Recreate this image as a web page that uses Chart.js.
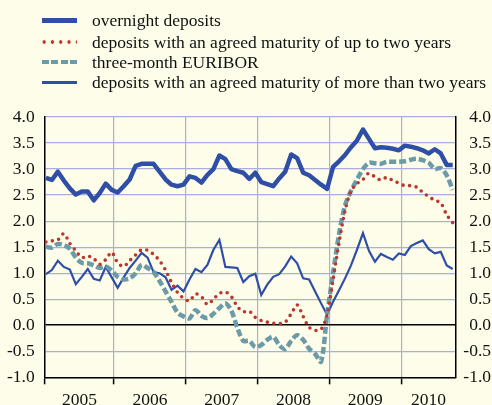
<!DOCTYPE html>
<html>
<head>
<meta charset="utf-8">
<script src="https://cdn.jsdelivr.net/npm/chart.js@4"></script>
<style>
  html, body { margin: 0; padding: 0; background: #fefde9; }
  #wrap { position: relative; width: 492px; height: 405px; overflow: hidden; background: #fefde9; }
  #chart { position: absolute; left: 0; top: 0; }
  .legend { position: absolute; left: 42px; top: 0; font-family: "Liberation Serif", "Times New Roman", serif; font-size: 17.5px; color: #111; }
  .row { position: absolute; left: 0; height: 20px; line-height: 20px; white-space: nowrap; }
  .row span.mark { position: absolute; left: 0; width: 35px; }
  .row span.txt { position: absolute; left: 50px; top: 0; }
</style>
</head>
<body>
<div id="wrap">
  <canvas id="chart" width="492" height="405"></canvas>
  <div class="legend" id="legend"></div>
</div>
<script>
// monthly data, Jan 2005 - Sep 2010
const years = ['2005', '2006', '2007', '2008', '2009', '2010'];

const overnight = [
  2.83, 2.79, 2.95, 2.78, 2.63, 2.51, 2.57, 2.57, 2.40, 2.54, 2.72, 2.60,
  2.55, 2.67, 2.80, 3.06, 3.10, 3.10, 3.10, 2.95, 2.80, 2.70, 2.67, 2.70,
  2.86, 2.83, 2.74, 2.89, 3.00, 3.26, 3.19, 3.00, 2.96, 2.93, 2.81, 2.93,
  2.75, 2.71, 2.67, 2.82, 2.95, 3.28, 3.21, 2.93, 2.88, 2.79, 2.70, 2.62,
  3.04, 3.15, 3.27, 3.42, 3.55, 3.76, 3.58, 3.40, 3.42, 3.41, 3.39, 3.36,
  3.45, 3.43, 3.40, 3.36, 3.30, 3.38, 3.30, 3.08, 3.08
];
const upToTwo = [
  1.60, 1.62, 1.64, 1.76, 1.57, 1.43, 1.30, 1.33, 1.28, 1.17, 1.26, 1.40,
  1.20, 1.13, 1.24, 1.35, 1.45, 1.44, 1.36, 1.24, 1.06, 0.82, 0.63, 0.52,
  0.47, 0.60, 0.55, 0.40, 0.50, 0.61, 0.64, 0.55, 0.36, 0.26, 0.27, 0.15,
  0.09, 0.06, 0.04, 0.03, 0.06, 0.22, 0.39, 0.17, -0.04, -0.10, -0.08, 0.20,
  0.88, 1.58, 2.20, 2.58, 2.72, 2.80, 2.92, 2.85, 2.79, 2.84, 2.78, 2.73,
  2.68, 2.68, 2.65, 2.55, 2.47, 2.40, 2.35, 2.12, 1.97
];
const euribor = [
  1.51, 1.49, 1.56, 1.54, 1.47, 1.30, 1.20, 1.19, 1.15, 1.10, 1.13, 1.05,
  0.93, 0.88, 0.90, 1.00, 1.16, 1.10, 1.02, 0.85, 0.65, 0.45, 0.24, 0.17,
  0.13, 0.29, 0.18, 0.14, 0.22, 0.33, 0.42, 0.28, -0.05, -0.30, -0.30, -0.42,
  -0.38, -0.28, -0.22, -0.38, -0.46, -0.30, -0.19, -0.28, -0.45, -0.55, -0.70, 0.20,
  1.00, 1.75, 2.30, 2.58, 2.80, 3.00, 3.12, 3.11, 3.10, 3.14, 3.14, 3.14,
  3.15, 3.18, 3.20, 3.17, 3.12, 3.00, 3.02, 2.88, 2.60
];
const overTwo = [
  0.98, 1.06, 1.24, 1.12, 1.07, 0.79, 0.93, 1.08, 0.89, 0.86, 1.12, 0.92,
  0.72, 0.92, 1.10, 1.24, 1.39, 1.30, 1.02, 1.00, 0.92, 0.68, 0.76, 0.65,
  0.88, 1.08, 1.02, 1.16, 1.45, 1.64, 1.12, 1.11, 1.10, 0.83, 0.94, 0.99,
  0.58, 0.78, 0.93, 0.98, 1.13, 1.32, 1.19, 0.90, 0.88, 0.65, 0.42, 0.20,
  0.45, 0.67, 0.90, 1.15, 1.45, 1.77, 1.43, 1.22, 1.37, 1.31, 1.26, 1.38,
  1.35, 1.52, 1.58, 1.63, 1.46, 1.38, 1.41, 1.15, 1.08
];
const yTicks = [-1.0, -0.5, 0.0, 0.5, 1.0, 1.5, 2.0, 2.5, 3.0, 3.5, 4.0];

const BLUE = '#2f4fa7';
const RED = '#b9372c';
const TEAL = '#6b9aa9';
const GRID = '#a9aee0';
const FONT = { family: '"Liberation Serif", "Times New Roman", serif', size: 17.5 };

const xMin = 0.4, xMax = 69.1;
const toXY = arr => arr.map((v, i) => ({ x: i + 0.6, y: v }));

// year boundaries and label positions (middle of the visible part of each year)
const bounds = [12, 24, 36, 48, 60];
const mids = years.map((y, k) => {
  const a = Math.max(k * 12, xMin), b = Math.min(k * 12 + 12, xMax);
  return (a + b) / 2;
});
const xTickVals = [xMin, ...bounds, ...mids].sort((a, b) => a - b);

const isBound = v => v === xMin || bounds.includes(v);

new Chart(document.getElementById('chart'), {
  type: 'line',
  data: {
    datasets: [
      { label: 'overnight deposits', data: toXY(overnight), borderColor: BLUE, borderWidth: 4.5, pointRadius: 0, tension: 0, borderJoinStyle: 'round' },
      { label: 'deposits with an agreed maturity of up to two years', data: toXY(upToTwo), borderColor: RED, borderWidth: 3.6, borderDash: [0, 6.6], borderCapStyle: 'round', pointRadius: 0, tension: 0.3 },
      { label: 'three-month EURIBOR', data: toXY(euribor), borderColor: TEAL, borderWidth: 4.5, borderDash: [7, 3], pointRadius: 0, tension: 0.3 },
      { label: 'deposits with an agreed maturity of more than two years', data: toXY(overTwo), borderColor: BLUE, borderWidth: 2.2, pointRadius: 0, tension: 0 }
    ]
  },
  options: {
    responsive: false,
    animation: false,
    devicePixelRatio: 1,
    layout: { padding: { top: 117, left: 0, right: 1, bottom: 0 } },
    plugins: { legend: { display: false }, tooltip: { enabled: false } },
    scales: {
      x: {
        type: 'linear', min: xMin, max: xMax,
        afterBuildTicks: s => { s.ticks = xTickVals.map(v => ({ value: v })); },
        afterFit: s => { s.height = 27.7; },
        ticks: {
          autoSkip: false, maxRotation: 0, minRotation: 0, padding: 6, color: '#111', font: FONT,
          callback: v => { const k = mids.indexOf(v); return k >= 0 ? years[k] : ''; }
        },
        grid: {
          color: c => (c.tick && isBound(c.tick.value) && c.tick.value !== xMin) ? GRID : 'transparent',
          tickColor: c => (c.tick && isBound(c.tick.value)) ? '#000' : 'transparent',
          tickLength: 7, lineWidth: 1.2, tickWidth: 1.5
        },
        border: { color: '#000', width: 1.5 }
      },
      y: {
        min: -1, max: 4,
        afterBuildTicks: s => { s.ticks = yTicks.map(v => ({ value: v })); },
        afterFit: s => { s.width = 44.7; },
        ticks: { padding: 10, color: '#111', font: FONT, callback: v => v.toFixed(1) },
        grid: {
          drawTicks: false,
          color: c => (c.tick && c.tick.value === 0) ? '#000' : GRID,
          lineWidth: c => (c.tick && c.tick.value === 0) ? 1.5 : 1.2
        },
        border: { color: '#000', width: 1.5 }
      },
      y2: {
        position: 'right', min: -1, max: 4,
        afterBuildTicks: s => { s.ticks = yTicks.map(v => ({ value: v })); },
        afterFit: s => { s.width = 35.3; },
        ticks: { padding: 12, crossAlign: 'far', color: '#111', font: FONT, callback: v => v.toFixed(1) },
        grid: { drawOnChartArea: false, drawTicks: false },
        border: { color: '#000', width: 1.5 }
      }
    }
  }
});

// legend
const legendRows = [
  { text: 'overnight deposits', y: 20,
    css: 'height:5px; background:' + BLUE },
  { text: 'deposits with an agreed maturity of up to two years', y: 42,
    css: 'height:4px; background-image: radial-gradient(circle, ' + RED + ' 1.5px, transparent 2px); background-size: 8.3px 4px; background-position: -2px 0' },
  { text: 'three-month EURIBOR', y: 62,
    css: 'height:4.5px; background-image: repeating-linear-gradient(90deg, ' + TEAL + ' 0 6.8px, transparent 6.8px 9.4px)' },
  { text: 'deposits with an agreed maturity of more than two years', y: 82,
    css: 'height:3px; background:' + BLUE }
];
const legend = document.getElementById('legend');
legendRows.forEach(r => {
  const row = document.createElement('div');
  row.className = 'row';
  row.style.top = (r.y - 10) + 'px';
  const mark = document.createElement('span');
  mark.className = 'mark';
  mark.style.cssText = r.css;
  mark.style.top = (10 - parseFloat(mark.style.height) / 2) + 'px';
  const txt = document.createElement('span');
  txt.className = 'txt';
  txt.textContent = r.text;
  row.appendChild(mark);
  row.appendChild(txt);
  legend.appendChild(row);
});
</script>
</body>
</html>
